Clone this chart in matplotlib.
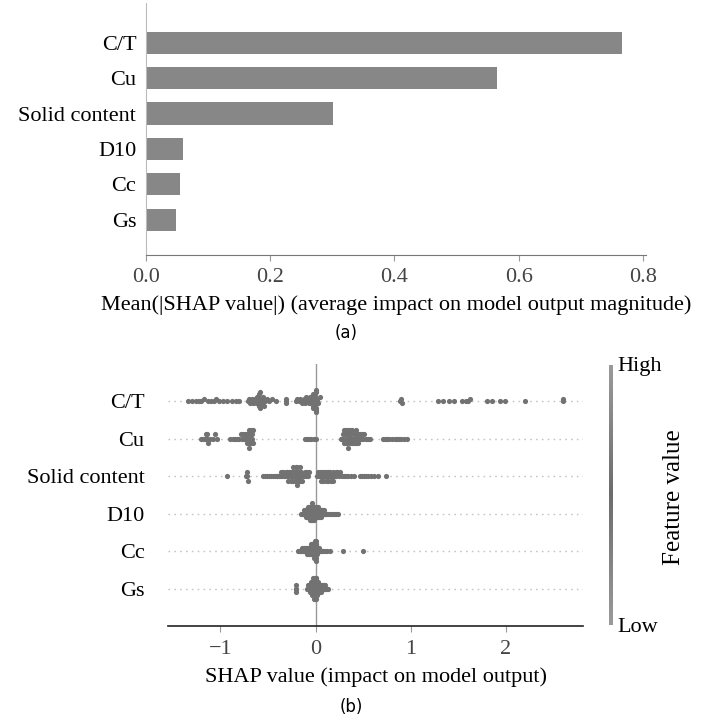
import numpy as np
import matplotlib
matplotlib.use("Agg")
import matplotlib.pyplot as plt
from matplotlib.colors import LinearSegmentedColormap

plt.rcParams['font.family'] = ['Liberation Serif', 'DejaVu Serif']

# Datos
features = ["C/T", "Cu", "Solid content", "D10", "Cc", "Gs"]
mean_abs_shap = [0.766, 0.565, 0.301, 0.060, 0.055, 0.048]

shap_ct = [-1.34, -1.30, -1.26, -1.22, -1.20, -1.17, -1.13, -1.10, -1.07, -1.05,
           -1.01, -0.97, -0.93, -0.88, -0.84, -0.80,
           -0.71, -0.70, -0.69, -0.68, -0.67, -0.66, -0.65, -0.64, -0.63, -0.62,
           -0.61, -0.61, -0.60, -0.60, -0.59, -0.59, -0.58, -0.58, -0.57, -0.57,
           -0.56, -0.55, -0.54, -0.53, -0.51, -0.49, -0.46, -0.42,
           -0.31, -0.31, -0.31,
           -0.20, -0.19, -0.17, -0.16, -0.14, -0.13, -0.12, -0.11, -0.10, -0.09,
           -0.08, -0.07, -0.06, -0.05, -0.05, -0.04, -0.04, -0.03, -0.03, -0.03,
           -0.02, -0.02, -0.02, -0.01, -0.01, -0.01, 0.0, 0.0, 0.0, 0.01, 0.01,
           0.02, 0.02, 0.03, 0.05,
           0.89, 0.90, 0.91,
           1.29, 1.34, 1.40, 1.45, 1.54, 1.58, 1.60, 1.62, 1.80, 1.85, 1.94, 1.99,
           2.20, 2.60, 2.60]
shap_cu = [-1.20, -1.18, -1.16, -1.15, -1.14, -1.14, -1.13, -1.11, -1.08, -1.06, -1.04,
           -0.90, -0.87, -0.85, -0.82, -0.80, -0.78, -0.77, -0.76, -0.75, -0.74,
           -0.73, -0.72, -0.72, -0.71, -0.71, -0.70, -0.70, -0.70, -0.69, -0.69,
           -0.68, -0.68, -0.67, -0.67, -0.66, -0.66,
           -0.11, -0.09, -0.07, -0.05, -0.02, 0.01,
           0.27, 0.28, 0.29, 0.30, 0.30, 0.31, 0.31, 0.32, 0.32, 0.33, 0.33, 0.33,
           0.34, 0.34, 0.35, 0.35, 0.36, 0.36, 0.37, 0.37, 0.38, 0.38, 0.39, 0.40,
           0.40, 0.41, 0.42, 0.42, 0.43, 0.44, 0.45, 0.45, 0.46, 0.47, 0.48, 0.49,
           0.50, 0.51, 0.53, 0.55, 0.57,
           0.71, 0.73, 0.75, 0.77, 0.80, 0.83, 0.86, 0.88, 0.90, 0.93, 0.96]
shap_solid = [-0.93, -0.73, -0.72, -0.72, -0.71,
              -0.55, -0.53, -0.51, -0.49, -0.47, -0.45, -0.43, -0.41, -0.40, -0.38,
              -0.37, -0.36, -0.35, -0.34, -0.33, -0.32, -0.31, -0.30, -0.30, -0.29,
              -0.28, -0.28, -0.27, -0.26, -0.26, -0.25, -0.25, -0.24, -0.24, -0.23,
              -0.23, -0.22, -0.22, -0.21, -0.21, -0.20, -0.20, -0.20, -0.19, -0.19,
              -0.18, -0.18, -0.18, -0.17, -0.17, -0.16, -0.16, -0.15, -0.15, -0.14,
              -0.13, -0.12, -0.11, -0.10, -0.09, -0.08, -0.07,
              0.02, 0.03, 0.04, 0.05, 0.05, 0.06, 0.07, 0.07, 0.08, 0.09, 0.09, 0.10,
              0.11, 0.11, 0.12, 0.13, 0.13, 0.14, 0.15, 0.15, 0.16, 0.17, 0.18, 0.18,
              0.19, 0.20, 0.21, 0.22, 0.23, 0.25, 0.26, 0.28, 0.30, 0.32, 0.34, 0.37,
              0.40,
              0.47, 0.49, 0.51, 0.53, 0.55, 0.58, 0.61, 0.66, 0.74]
shap_d10 = [-0.15, -0.14, -0.13, -0.12, -0.12, -0.11, -0.11, -0.10, -0.10, -0.10,
            -0.09, -0.09, -0.09, -0.08, -0.08, -0.08, -0.08, -0.07, -0.07, -0.07,
            -0.07, -0.06, -0.06, -0.06, -0.06, -0.06, -0.05, -0.05, -0.05, -0.05,
            -0.05, -0.04, -0.04, -0.04, -0.04, -0.04, -0.04, -0.03, -0.03, -0.03,
            -0.03, -0.03, -0.02, -0.02, -0.02, -0.02, -0.02, -0.01, -0.01, -0.01,
            -0.01, 0.00, 0.00, 0.00, 0.00, 0.01, 0.01, 0.01, 0.01, 0.02, 0.02, 0.02,
            0.02, 0.03, 0.03, 0.03, 0.03, 0.04, 0.04, 0.04, 0.05, 0.05, 0.05, 0.06,
            0.06, 0.06, 0.07, 0.07, 0.08, 0.08, 0.09, 0.09, 0.10, 0.11, 0.12, 0.14,
            0.16, 0.18, 0.20, 0.22, 0.24]
shap_cc = [-0.18, -0.17, -0.16, -0.15, -0.14, -0.14, -0.13, -0.12, -0.12, -0.11,
           -0.11, -0.10, -0.10, -0.09, -0.09, -0.09, -0.08, -0.08, -0.08, -0.07,
           -0.07, -0.07, -0.06, -0.06, -0.06, -0.05, -0.05, -0.05, -0.05, -0.04,
           -0.04, -0.04, -0.04, -0.03, -0.03, -0.03, -0.03, -0.02, -0.02, -0.02,
           -0.02, -0.02, -0.01, -0.01, -0.01, -0.01, -0.01, -0.01, 0.00, 0.00, 0.00,
           0.00, 0.00, 0.00, 0.00, 0.01, 0.01, 0.01, 0.01, 0.02, 0.02, 0.02, 0.03,
           0.03, 0.04, 0.04, 0.05, 0.06, 0.07, 0.08, 0.10, 0.12, 0.15, 0.29, 0.50]
shap_gs = [-0.21, -0.21, -0.21, -0.20, -0.09, -0.08, -0.08, -0.07, -0.07, -0.06,
           -0.06, -0.06, -0.05, -0.05, -0.05, -0.05, -0.04, -0.04, -0.04, -0.04,
           -0.04, -0.03, -0.03, -0.03, -0.03, -0.03, -0.03, -0.02, -0.02, -0.02,
           -0.02, -0.02, -0.02, -0.02, -0.01, -0.01, -0.01, -0.01, -0.01, -0.01,
           -0.01, 0.00, 0.00, 0.00, 0.00, 0.00, 0.00, 0.00, 0.01, 0.01, 0.01, 0.01,
           0.01, 0.01, 0.02, 0.02, 0.02, 0.02, 0.02, 0.03, 0.03, 0.03, 0.03, 0.04,
           0.04, 0.04, 0.05, 0.05, 0.05, 0.06, 0.06, 0.06, 0.07, 0.07, 0.08, 0.08,
           0.09, 0.09, 0.10, 0.10, 0.11, 0.12, 0.13]
shap_values = [shap_ct, shap_cu, shap_solid, shap_d10, shap_cc, shap_gs]

fs = 16
fig = plt.figure(figsize=(7.02, 7.23), dpi=100)

# (a) grafico de barras
ax1 = fig.add_axes([146/702, 1-255/723, 500/702, 252/723])
ypos = np.arange(len(features))[::-1]
ax1.barh(ypos, mean_abs_shap, height=0.63, color='#878787')
ax1.set_yticks(ypos)
ax1.set_yticklabels(features, fontsize=fs)
ax1.set_xlim(0, 0.805)
ax1.set_ylim(-1, 6.13)
ax1.set_xticks([0.0, 0.2, 0.4, 0.6, 0.8])
ax1.set_xticklabels(['0.0', '0.2', '0.4', '0.6', '0.8'], fontsize=fs, color='#444444')
ax1.tick_params('y', length=0, pad=7)
ax1.tick_params('x', length=4, color='#999999', pad=5)
ax1.spines['top'].set_visible(False)
ax1.spines['right'].set_visible(False)
ax1.spines['left'].set_color('#bbbbbb')
ax1.spines['bottom'].set_color('#777777')
ax1.set_xlabel('Mean(|SHAP value|) (average impact on model output magnitude)',
               fontsize=fs, labelpad=6)
fig.text(346/702, 1-333/723, '(a)', ha='center', va='center', fontsize=12,
         family=['Liberation Sans Narrow', 'DejaVu Sans'])

# (b) beeswarm
ax2 = fig.add_axes([168/702, 1-626/723, 415/702, 262.4/723])
row_height = 0.4
for i, vals in enumerate(shap_values):
    pos = len(features) - 1 - i
    ax2.axhline(pos, color='#c4c4c4', lw=1.0, dashes=(1.2, 3), zorder=-1)
    vals = np.array(vals)
    nbins = 100
    quant = np.round(nbins * (vals - vals.min()) / (vals.max() - vals.min() + 1e-8))
    inds = np.argsort(quant, kind='stable')
    layer = 0
    last_bin = -1
    ys = np.zeros(len(vals))
    for ind in inds:
        if quant[ind] != last_bin:
            layer = 0
        ys[ind] = np.ceil(layer / 2) * ((layer % 2) * 2 - 1)
        layer += 1
        last_bin = quant[ind]
    ys *= 0.9 * (row_height / np.max(ys + 1))
    ax2.scatter(vals, pos + ys, s=14, color='#727272', linewidth=0, zorder=3)

ax2.axvline(0, color='#999999', lw=1, zorder=-1)
ax2.set_xlim(-1.55, 2.81)
ax2.set_ylim(-1, 6)
ax2.set_yticks(np.arange(len(features))[::-1])
ax2.set_yticklabels(features, fontsize=fs)
ax2.tick_params('y', length=0, pad=17)
ax2.set_xticks([-1, 0, 1, 2])
ax2.set_xticklabels(['\u22121', '0', '1', '2'], fontsize=fs, color='#444444')
ax2.tick_params('x', length=4, color='#999999', pad=6)
for s in ['top', 'right', 'left']:
    ax2.spines[s].set_visible(False)
ax2.spines['bottom'].set_color('#222222')
ax2.spines['bottom'].set_linewidth(1.2)
ax2.set_xlabel('SHAP value (impact on model output)', fontsize=fs, labelpad=6)

# barra de color
cax = fig.add_axes([609/702, 1-625/723, 4/702, 260/723])
cmap = LinearSegmentedColormap.from_list('grises', ['#9a9a9a', '#6c6c6c', '#9a9a9a'])
cax.imshow(np.linspace(0, 1, 100).reshape(-1, 1), aspect='auto', cmap=cmap)
cax.set_xticks([])
cax.set_yticks([])
for s in cax.spines.values():
    s.set_visible(False)
fig.text(617/702, 1-367/723, 'High', fontsize=fs, va='center', ha='left')
fig.text(617/702, 1-627/723, 'Low', fontsize=fs, va='center', ha='left')
fig.text(674/702, 1-497/723, 'Feature value', fontsize=18, rotation=90,
         va='center', ha='center')
fig.text(351/702, 1-707/723, '(b)', ha='center', va='center', fontsize=12,
         family=['Liberation Sans Narrow', 'DejaVu Sans'])

fig.savefig('out.png', dpi=100)
